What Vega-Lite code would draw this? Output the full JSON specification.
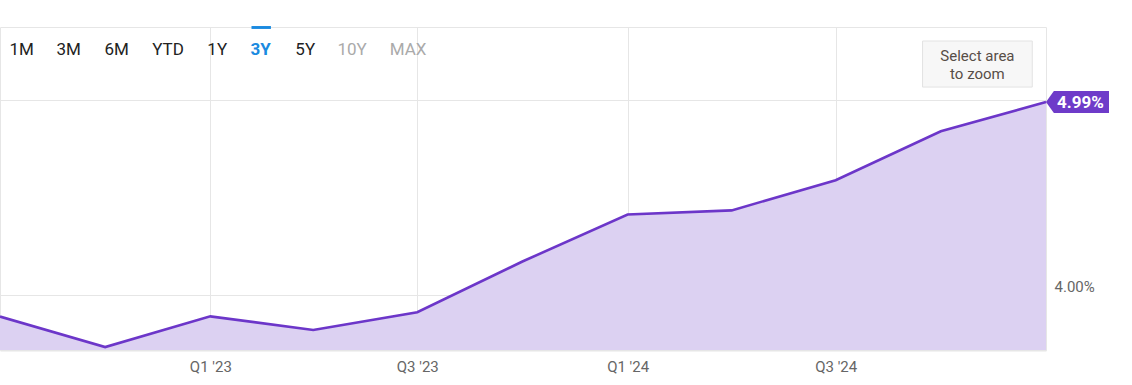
{
  "$schema": "https://vega.github.io/schema/vega-lite/v6.json",
  "width": 1046,
  "height": 323,
  "autosize": "none",
  "padding": {"left": 0, "top": 27, "right": 86, "bottom": 35},
  "background": "#ffffff",
  "config": {
    "view": {"stroke": "#e6e6e6", "strokeWidth": 1},
    "font": "Roboto",
    "text": {"font": "Roboto"}
  },
  "datasets": {
    "series": [
      {"date": "2022-07-01", "value": 3.887},
      {"date": "2022-10-01", "value": 3.73},
      {"date": "2023-01-01", "value": 3.888},
      {"date": "2023-04-01", "value": 3.818},
      {"date": "2023-07-01", "value": 3.909},
      {"date": "2023-10-01", "value": 4.17},
      {"date": "2024-01-01", "value": 4.412},
      {"date": "2024-04-01", "value": 4.433},
      {"date": "2024-07-01", "value": 4.588},
      {"date": "2024-10-01", "value": 4.84},
      {"date": "2025-01-01", "value": 4.99}
    ],
    "ui": [{}]
  },
  "layer": [
    {
      "data": {"name": "series"},
      "mark": {"type": "area", "color": "#dcd1f2", "opacity": 1},
      "encoding": {
        "x": {
          "field": "date",
          "type": "temporal",
          "scale": {
            "type": "utc",
            "domain": ["2022-07-01", "2025-01-01"],
            "nice": false
          },
          "axis": {
            "title": null,
            "values": ["2023-01-01", "2023-07-01", "2024-01-01", "2024-07-01"],
            "labelExpr": "(utcmonth(datum.value) < 6 ? 'Q1' : 'Q3') + \" '\" + utcFormat(datum.value, '%y')",
            "grid": true,
            "gridColor": "#e6e6e6",
            "gridWidth": 1,
            "ticks": false,
            "domain": true,
            "domainColor": "#e6e6e6",
            "domainWidth": 2,
            "labelColor": "#666666",
            "labelFontSize": 15,
            "labelFont": "Roboto",
            "labelPadding": 9,
            "labelFlush": false
          }
        },
        "y": {
          "field": "value",
          "type": "quantitative",
          "scale": {"domain": [3.715, 5.376], "nice": false, "zero": false},
          "axis": {
            "title": null,
            "orient": "right",
            "values": [4, 5],
            "labelExpr": "datum.value == 4 ? '4.00%' : ''",
            "grid": true,
            "gridColor": "#e6e6e6",
            "gridWidth": 1,
            "ticks": false,
            "domain": false,
            "labelColor": "#666666",
            "labelFontSize": 15,
            "labelFont": "Roboto",
            "labelAlign": "left",
            "labelBaseline": "alphabetic",
            "labelOffset": -3,
            "labelPadding": 8
          }
        },
        "y2": {"datum": 3.715}
      }
    },
    {
      "data": {"name": "series"},
      "mark": {"type": "line", "color": "#6c36c9", "strokeWidth": 2.6},
      "encoding": {
        "x": {"field": "date", "type": "temporal"},
        "y": {"field": "value", "type": "quantitative"}
      }
    },
    {
      "data": {"name": "series"},
      "transform": [{"filter": "datum.value >= 4.99"}],
      "mark": {
        "type": "point",
        "shape": "M0,0 L0.25,-0.35 L2,-0.35 L2,0.35 L0.25,0.35 Z",
        "size": 3969,
        "filled": true,
        "color": "#6e3bc9",
        "opacity": 1,
        "strokeWidth": 0
      },
      "encoding": {
        "x": {"field": "date", "type": "temporal"},
        "y": {"field": "value", "type": "quantitative"}
      }
    },
    {
      "data": {"name": "series"},
      "transform": [
        {"filter": "datum.value >= 4.99"},
        {"calculate": "format(datum.value, '.2f') + '%'", "as": "label"}
      ],
      "mark": {
        "type": "text",
        "align": "left",
        "baseline": "middle",
        "dx": 11,
        "dy": 1,
        "fontSize": 17,
        "fontWeight": "bold",
        "color": "#ffffff"
      },
      "encoding": {
        "x": {"field": "date", "type": "temporal"},
        "y": {"field": "value", "type": "quantitative"},
        "text": {"field": "label", "type": "nominal"}
      }
    },
    {
      "data": {"name": "ui"},
      "mark": {"type": "rect", "color": "#1a8ae0"},
      "encoding": {
        "x": {"datum": {"year": 2023, "month": 2, "date": 6, "utc": true}, "type": "temporal"},
        "x2": {"datum": {"year": 2023, "month": 2, "date": 23, "utc": true}},
        "y": {"datum": 5.381, "type": "quantitative"},
        "y2": {"datum": 5.366}
      }
    },
    {
      "data": {"name": "ui"},
      "mark": {"type": "rect", "fill": "#f7f7f7", "stroke": "#e3e3e3", "strokeWidth": 1},
      "encoding": {
        "x": {"datum": {"year": 2024, "month": 9, "date": 15, "utc": true}, "type": "temporal"},
        "x2": {"datum": {"year": 2024, "month": 12, "date": 20, "utc": true}},
        "y": {"datum": 5.304, "type": "quantitative"},
        "y2": {"datum": 5.067}
      }
    },
    {
      "data": {"name": "ui"},
      "mark": {"type": "text", "fontSize": 15, "color": "#574e47", "align": "center", "baseline": "middle", "lineHeight": 18, "text": ["Select area", "to zoom"]},
      "encoding": {
        "x": {"datum": {"year": 2024, "month": 11, "date": 2, "utc": true}, "type": "temporal"},
        "y": {"datum": 5.226, "type": "quantitative"}
      }
    },
    {"data": {"name": "ui"}, "mark": {"type": "text", "fontSize": 17, "color": "#222222", "text": "1M"}, "encoding": {"x": {"datum": {"year": 2022, "month": 7, "date": 20, "utc": true}, "type": "temporal"}, "y": {"datum": 5.257, "type": "quantitative"}}},
    {"data": {"name": "ui"}, "mark": {"type": "text", "fontSize": 17, "color": "#222222", "text": "3M"}, "encoding": {"x": {"datum": {"year": 2022, "month": 8, "date": 30, "utc": true}, "type": "temporal"}, "y": {"datum": 5.257, "type": "quantitative"}}},
    {"data": {"name": "ui"}, "mark": {"type": "text", "fontSize": 17, "color": "#222222", "text": "6M"}, "encoding": {"x": {"datum": {"year": 2022, "month": 10, "date": 11, "utc": true}, "type": "temporal"}, "y": {"datum": 5.257, "type": "quantitative"}}},
    {"data": {"name": "ui"}, "mark": {"type": "text", "fontSize": 17, "color": "#222222", "text": "YTD"}, "encoding": {"x": {"datum": {"year": 2022, "month": 11, "date": 25, "utc": true}, "type": "temporal"}, "y": {"datum": 5.257, "type": "quantitative"}}},
    {"data": {"name": "ui"}, "mark": {"type": "text", "fontSize": 17, "color": "#222222", "text": "1Y"}, "encoding": {"x": {"datum": {"year": 2023, "month": 1, "date": 7, "utc": true}, "type": "temporal"}, "y": {"datum": 5.257, "type": "quantitative"}}},
    {"data": {"name": "ui"}, "mark": {"type": "text", "fontSize": 17, "color": "#1a8ae0", "fontWeight": "bold", "text": "3Y"}, "encoding": {"x": {"datum": {"year": 2023, "month": 2, "date": 14, "utc": true}, "type": "temporal"}, "y": {"datum": 5.257, "type": "quantitative"}}},
    {"data": {"name": "ui"}, "mark": {"type": "text", "fontSize": 17, "color": "#222222", "text": "5Y"}, "encoding": {"x": {"datum": {"year": 2023, "month": 3, "date": 25, "utc": true}, "type": "temporal"}, "y": {"datum": 5.257, "type": "quantitative"}}},
    {"data": {"name": "ui"}, "mark": {"type": "text", "fontSize": 17, "color": "#aaaaaa", "text": "10Y"}, "encoding": {"x": {"datum": {"year": 2023, "month": 5, "date": 5, "utc": true}, "type": "temporal"}, "y": {"datum": 5.257, "type": "quantitative"}}},
    {"data": {"name": "ui"}, "mark": {"type": "text", "fontSize": 17, "color": "#aaaaaa", "text": "MAX"}, "encoding": {"x": {"datum": {"year": 2023, "month": 6, "date": 23, "utc": true}, "type": "temporal"}, "y": {"datum": 5.257, "type": "quantitative"}}}
  ]
}
